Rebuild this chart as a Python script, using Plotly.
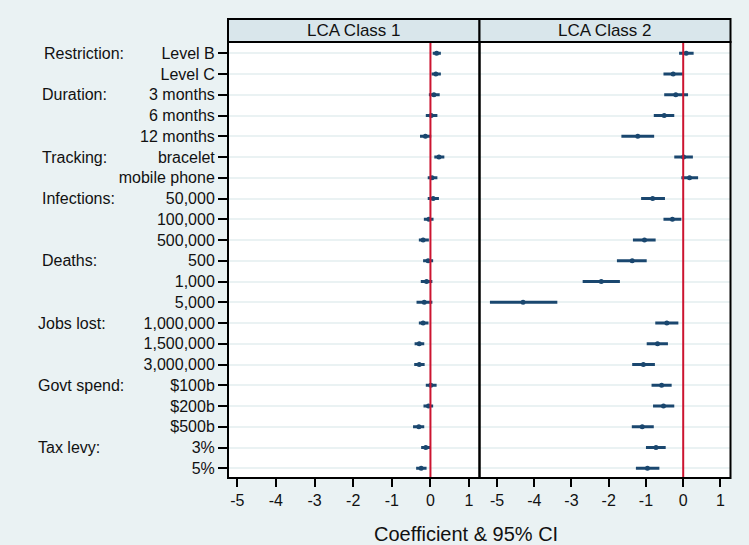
import plotly.graph_objects as go

categories = ["Level B", "Level C", "3 months", "6 months", "12 months", "bracelet",
              "mobile phone", "50,000", "100,000", "500,000", "500", "1,000", "5,000",
              "1,000,000", "1,500,000", "3,000,000", "$100b", "$200b", "$500b", "3%", "5%"]
group_names = ["Restriction:", "Duration:", "Tracking:", "Infections:", "Deaths:",
               "Jobs lost:", "Govt spend:", "Tax levy:"]
group_rows = [0, 2, 5, 7, 10, 13, 16, 19]
panel_titles = ["LCA Class 1", "LCA Class 2"]
x_ticks = [-5, -4, -3, -2, -1, 0, 1]

class1_est = [0.16, 0.14, 0.09, 0.02, -0.13, 0.22, 0.04, 0.07, -0.04, -0.19, -0.06, -0.10,
              -0.16, -0.19, -0.29, -0.29, 0.01, -0.05, -0.30, -0.12, -0.24]
class1_lo = [0.06, 0.03, -0.04, -0.12, -0.27, 0.10, -0.07, -0.07, -0.17, -0.30, -0.19, -0.25,
             -0.36, -0.30, -0.41, -0.42, -0.12, -0.18, -0.45, -0.24, -0.37]
class1_hi = [0.27, 0.27, 0.24, 0.18, 0.02, 0.36, 0.18, 0.22, 0.08, -0.04, 0.07, 0.05,
             0.05, -0.05, -0.16, -0.15, 0.16, 0.07, -0.16, 0.00, -0.10]

class2_est = [0.08, -0.27, -0.20, -0.51, -1.22, 0.01, 0.17, -0.82, -0.29, -1.04, -1.37, -2.20,
              -4.30, -0.44, -0.69, -1.07, -0.58, -0.53, -1.10, -0.73, -0.96]
class2_lo = [-0.11, -0.53, -0.51, -0.79, -1.66, -0.24, -0.05, -1.13, -0.53, -1.35, -1.78, -2.70,
             -5.19, -0.75, -0.98, -1.37, -0.85, -0.81, -1.38, -1.00, -1.27]
class2_hi = [0.28, -0.01, 0.13, -0.24, -0.78, 0.26, 0.40, -0.49, -0.05, -0.74, -0.98, -1.70,
             -3.38, -0.13, -0.41, -0.76, -0.31, -0.24, -0.79, -0.47, -0.64]

# page body has an 8px margin; figure fills the rest of the 749x545 window
OFF = 8
W, H = 749 - OFF, 545 - OFF
BG = "rgb(234,242,243)"
NAVY = "rgb(26,71,111)"
RED = "rgb(204,20,48)"
FONT = "Liberation Sans, Arial, sans-serif"

def px_x(p):
    return (p - OFF) / W

def px_y(p):
    return 1 - (p - OFF) / H

rows = list(range(1, len(categories) + 1))

fig = go.Figure()
for i, (est, lo, hi) in enumerate([(class1_est, class1_lo, class1_hi),
                                   (class2_est, class2_lo, class2_hi)]):
    sfx = "" if i == 0 else "2"
    fig.add_trace(go.Scatter(
        x=est, y=rows, mode="markers",
        xaxis="x" + sfx, yaxis="y" + sfx,
        marker=dict(color=NAVY, size=5, symbol="circle"),
        error_x=dict(type="data", symmetric=False,
                     array=[h - e for h, e in zip(hi, est)],
                     arrayminus=[e - l for e, l in zip(est, lo)],
                     color=NAVY, thickness=3, width=0),
        showlegend=False, hoverinfo="skip",
    ))

p1 = (228, 479.5)
p2 = (479.5, 730.5)
top, bottom = 42, 478
ydom = [px_y(bottom), px_y(top)]
yrange = [21.47, 0.455]

common_x = dict(tickvals=x_ticks, ticktext=[str(t) for t in x_ticks], ticks="outside",
                ticklen=8, tickwidth=1.5, tickcolor="black", showgrid=False, zeroline=False,
                showline=False, tickfont=dict(family=FONT, size=16, color="#111"))
fig.update_layout(
    width=W, height=H, margin=dict(l=0, r=0, t=0, b=0),
    paper_bgcolor=BG, plot_bgcolor="white",
    xaxis=dict(domain=[px_x(p1[0]), px_x(p1[1])], range=[-5.24, 1.27], anchor="y", **common_x),
    xaxis2=dict(domain=[px_x(p2[0]), px_x(p2[1])], range=[-5.47, 1.27], anchor="y2", **common_x),
    yaxis=dict(domain=ydom, range=yrange, anchor="x", tickvals=rows, ticktext=categories,
               ticks="outside", ticklen=9, tickwidth=1.5, tickcolor="black",
               showgrid=True, gridcolor=BG, gridwidth=2, zeroline=False, showline=False,
               tickfont=dict(family=FONT, size=16, color="#111")),
    yaxis2=dict(domain=ydom, range=yrange, anchor="x2", tickvals=rows, showticklabels=False,
                ticks="", showgrid=True, gridcolor=BG, gridwidth=2, zeroline=False,
                showline=False),
)

shapes = []
annotations = []
for (xa, xb), title, xref in [(p1, panel_titles[0], "x"), (p2, panel_titles[1], "x2")]:
    shapes.append(dict(type="line", xref=xref, yref="paper", x0=0, x1=0,
                       y0=px_y(bottom), y1=px_y(top), line=dict(color=RED, width=2)))
    shapes.append(dict(type="rect", xref="paper", yref="paper", x0=px_x(xa), x1=px_x(xb),
                       y0=px_y(bottom), y1=px_y(top), line=dict(color="black", width=2)))
    shapes.append(dict(type="rect", xref="paper", yref="paper", x0=px_x(xa), x1=px_x(xb),
                       y0=px_y(top), y1=px_y(19), fillcolor="rgb(217,230,235)",
                       line=dict(color="black", width=2)))
    annotations.append(dict(text=title, xref="paper", yref="paper", x=px_x((xa + xb) / 2),
                            y=px_y(30.5), showarrow=False, xanchor="center", yanchor="middle",
                            font=dict(family=FONT, size=17, color="#111")))

group_x = [42, 40, 40, 40, 40, 36, 36, 36]
for name, r, gx in zip(group_names, group_rows, group_x):
    annotations.append(dict(text=name, xref="paper", yref="y", x=px_x(gx), y=rows[r],
                            showarrow=False, xanchor="left", yanchor="middle",
                            font=dict(family=FONT, size=16, color="#111")))

annotations.append(dict(text="Coefficient & 95% CI", xref="paper", yref="paper",
                        x=px_x(466), y=px_y(534), showarrow=False, xanchor="center",
                        yanchor="middle", font=dict(family=FONT, size=20, color="#111")))

fig.update_layout(shapes=shapes, annotations=annotations)
fig.write_html("out.html",
               post_script="document.body.style.background='rgb(234,242,243)';")
